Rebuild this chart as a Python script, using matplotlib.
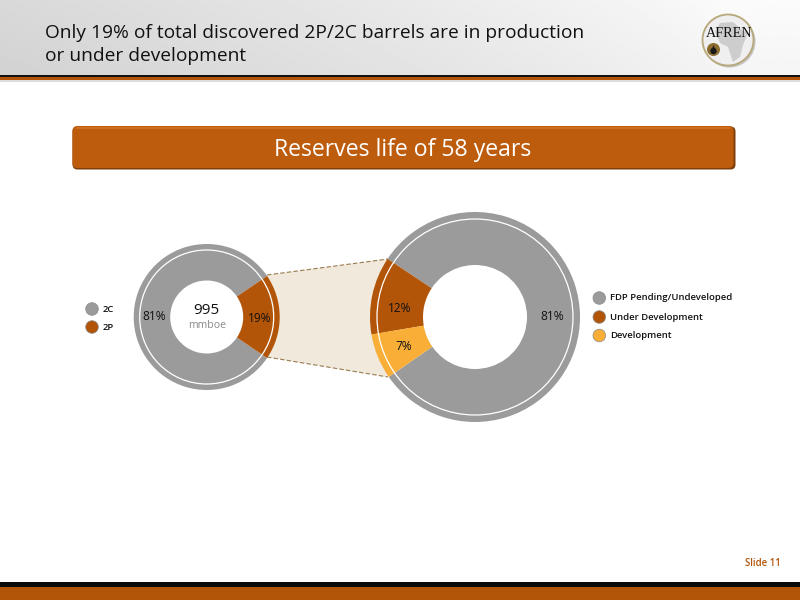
import math
import numpy as np
import matplotlib
matplotlib.use("Agg")
import matplotlib.pyplot as plt
from matplotlib.patches import Circle, FancyBboxPatch, Polygon, Rectangle

# ---- data ----
total_value = "995"
total_unit = "mmboe"
left_categories = ["2C", "2P"]
left_values = [81, 19]
right_categories = ["FDP Pending/Undeveloped", "Under Development", "Development"]
right_values = [81, 12, 7]
title_lines = "Only 19% of total discovered 2P/2C barrels are in production\nor under development"
banner_text = "Reserves life of 58 years"
slide_text = "Slide 11"

GRAY, ORANGE, AMBER = "#9B9B9B", "#B25508", "#F9AE37"
left_colors = [GRAY, ORANGE]
right_colors = [GRAY, ORANGE, AMBER]
TEXT = "#111111"
FONT = "Open Sans"
plt.rcParams["font.family"] = [FONT, "DejaVu Sans"]

fig = plt.figure(figsize=(8, 6), dpi=100, facecolor="white")
ax = fig.add_axes([0, 0, 1, 1])
Y = lambda py: 600 - py


def donut(values, colors, cx, cy, r_out, r_in, r_white, start, r_label, label_dy):
    ax.pie(values, colors=colors, center=(cx, Y(cy)), radius=r_out, startangle=start,
           wedgeprops=dict(width=r_out - r_in, linewidth=0), frame=True, normalize=True)
    ax.add_patch(Circle((cx, Y(cy)), r_white, fill=False, ec="white", lw=0.9, zorder=5))
    a = start
    for v, dy in zip(values, label_dy):
        mid = math.radians(a + v * 3.6 / 2)
        ax.text(cx + r_label * math.cos(mid), Y(cy) + r_label * math.sin(mid) + dy, f"{v}%",
                ha="center", va="center", fontsize=8.6, color=TEXT, zorder=6)
        a += v * 3.6


# header gradient: grey at the left, fading to near white at the right
xx, yy = np.meshgrid(np.linspace(0, 1, 256), np.linspace(0, 1, 64))
img = 0.985 - 0.135 * np.clip(1 - xx * 1.1, 0, 1) ** 0.8 - 0.025 * yy
ax.imshow(img, cmap="gray", vmin=0, vmax=1, extent=(0, 800, Y(75), Y(0)), aspect="auto", zorder=0)
ax.add_patch(Rectangle((0, Y(77)), 800, 2, fc="#111111", lw=0, zorder=1))
ax.add_patch(Rectangle((0, Y(80)), 800, 3, fc="#B25508", lw=0, zorder=1))
ax.add_patch(Rectangle((0, Y(82)), 800, 2, fc="#DDDDDD", lw=0, zorder=1))
ax.add_patch(Rectangle((0, Y(587)), 800, 5, fc="#0A0A0A", lw=0, zorder=1))
ax.add_patch(Rectangle((0, 0), 800, 13, fc="#B25508", lw=0, zorder=1))

ax.text(45, Y(44.5), title_lines, fontsize=13.8, color=TEXT, va="center", ha="left", linespacing=1.3)

# logo
ax.add_patch(Circle((729.5, Y(41.5)), 26, fc="#777777", alpha=0.4, lw=0, zorder=2))
ax.add_patch(Circle((728, Y(40)), 25.5, fc="#EFEFEF", ec="#B9A77C", lw=1.3, zorder=3))
ax.add_patch(Polygon([(715, Y(32)), (720, Y(23)), (733, Y(22)), (742, Y(30)), (748, Y(33)),
                      (743, Y(45)), (740, Y(57)), (733, Y(62)), (728, Y(47)), (720, Y(43))],
                     fc="#CDCDCD", lw=0, zorder=4))
ax.add_patch(Circle((713.5, Y(49.5)), 6.5, fc="#8C6D2F", lw=0, zorder=4))
ax.add_patch(Circle((713.5, Y(51)), 3.2, fc="#1A1A1A", lw=0, zorder=5))
ax.add_patch(Polygon([(713.5, Y(45)), (715, Y(49)), (712, Y(49))], fc="#1A1A1A", lw=0, zorder=5))
ax.text(729.5, Y(33.5), "AFREN", family="Liberation Serif", fontsize=10.2, color="#111111",
        ha="center", va="center", zorder=6)

# banner
ax.add_patch(FancyBboxPatch((72.5, Y(169.5)), 663, 43, boxstyle="round,pad=0,rounding_size=5",
                            fc="#7E3F0A", lw=0, zorder=2))
ax.add_patch(FancyBboxPatch((72.5, Y(168)), 661, 42, boxstyle="round,pad=0,rounding_size=5",
                            fc="#BE5C0E", lw=0, zorder=2.5))
ax.add_patch(Rectangle((76, Y(129)), 654, 2, fc="#D0701F", lw=0, zorder=3))
ax.text(403, Y(150), banner_text, fontsize=16.6, color="white", ha="center", va="center", zorder=4)

# connecting funnel
funnel = [(267, Y(275)), (388, Y(259)), (388, Y(377)), (267, Y(357))]
ax.add_patch(Polygon(funnel, fc="#F0E9DC", lw=0, zorder=0.5))
for a_, b_ in ((funnel[0], funnel[1]), (funnel[3], funnel[2])):
    ax.plot([a_[0], b_[0]], [a_[1], b_[1]], color="#9A7B4F", lw=0.8, ls=(0, (4, 2)), zorder=0.6)

# donuts
donut(left_values, left_colors, 206.7, 317, 73, 36.5, 67, 34.2, 52.5, [0, -2])
donut(right_values, right_colors, 475, 317, 105, 52, 98, 214.8, 77.5, [0, -8, 0])

ax.text(206.7, Y(311), total_value, fontsize=11, color=TEXT, ha="center", va="center", zorder=6)
ax.text(206.7, Y(325.5), total_unit, fontsize=7.6, color="#8A8A8A", ha="center", va="center", zorder=6)

# legends
for name, col, py in zip(left_categories, left_colors, (309, 327)):
    ax.add_patch(Circle((92, Y(py)), 6.3, fc=col, ec="#8a8a8a", lw=0.5, zorder=4))
    ax.text(103, Y(py), name, fontsize=6.8, color=TEXT, va="center", ha="left", zorder=4, weight="semibold")
for name, col, py in zip(right_categories, right_colors, (298, 317, 335.5)):
    ax.add_patch(Circle((599.3, Y(py)), 6.3, fc=col, ec="#8a8a8a", lw=0.5, zorder=4))
    ax.text(610, Y(py), name, fontsize=6.8, color=TEXT, va="center", ha="left", zorder=4, weight="semibold")

ax.text(781, Y(563), slide_text, fontsize=6.9, color="#B25508", ha="right", va="center", weight="semibold")

ax.set_xlim(0, 800)
ax.set_ylim(0, 600)
ax.set_aspect("equal")
ax.axis("off")
fig.savefig("out.png", dpi=100)
